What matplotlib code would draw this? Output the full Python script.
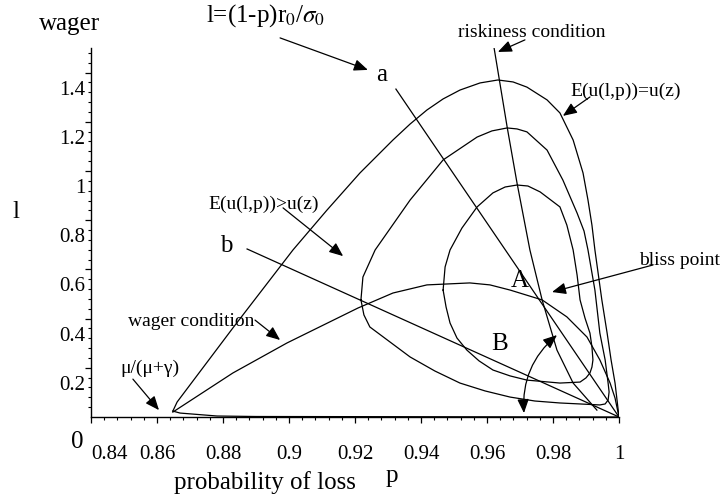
import matplotlib
matplotlib.use("Agg")
import matplotlib.pyplot as plt
import matplotlib.transforms as mtransforms
from matplotlib.ticker import FixedLocator

plt.rcParams['font.family'] = ['Liberation Serif', 'DejaVu Serif']
plt.rcParams['mathtext.fontset'] = 'stix'

# outer level curve E(u(l,p))=u(z): upper branch and the branch hugging l=0
c1_p = [0.8648, 0.8661, 0.8830, 0.9012, 0.9115, 0.9215, 0.9315, 0.9367, 0.9418,
        0.9467, 0.9518, 0.9579, 0.9633, 0.9679, 0.9721, 0.9782, 0.9821, 0.9861,
        0.9891, 0.9906, 0.9918, 0.9927, 0.9948, 0.9964, 0.9976, 0.9988, 0.9994, 1.0]
c1_l = [0.024, 0.061, 0.362, 0.679, 0.841, 0.992, 1.126, 1.191, 1.248,
        1.293, 1.329, 1.358, 1.370, 1.362, 1.341, 1.289, 1.236, 1.126,
        0.992, 0.882, 0.780, 0.679, 0.476, 0.341, 0.232, 0.138, 0.069, 0.0]
c1_low_p = [0.8648, 0.8670, 0.8782, 0.8900, 1.0]
c1_low_l = [0.024, 0.016, 0.004, 0.002, 0.0]

# middle closed level curve
c2_p = [0.9218, 0.9224, 0.9261, 0.9367, 0.9467, 0.9570, 0.9615, 0.9661, 0.9691,
        0.9721, 0.9782, 0.9830, 0.9873, 0.9894, 0.9906, 0.9927, 0.9942, 0.9958,
        0.9967, 0.9970, 0.9967, 0.9958, 0.9942, 0.9882, 0.9821, 0.9745, 0.9670,
        0.9594, 0.9518, 0.9442, 0.9367, 0.9245, 0.9227, 0.9218]
c2_l = [0.476, 0.569, 0.679, 0.882, 1.045, 1.138, 1.163, 1.175, 1.171,
        1.159, 1.085, 0.963, 0.829, 0.756, 0.679, 0.516, 0.341, 0.232,
        0.138, 0.102, 0.069, 0.053, 0.049, 0.053, 0.057, 0.065, 0.081,
        0.106, 0.138, 0.187, 0.244, 0.366, 0.415, 0.476]

# inner closed level curve
c3_p = [0.9467, 0.9473, 0.9488, 0.9524, 0.9570, 0.9618, 0.9655, 0.9691, 0.9724,
        0.9761, 0.9821, 0.9842, 0.9861, 0.9873, 0.9882, 0.9897, 0.9912, 0.9918,
        0.9921, 0.9918, 0.9912, 0.9900, 0.9882, 0.9821, 0.9721, 0.9670, 0.9618,
        0.9576, 0.9539, 0.9509, 0.9488, 0.9476, 0.9467]
c3_l = [0.516, 0.610, 0.679, 0.768, 0.854, 0.911, 0.935, 0.943, 0.939,
        0.915, 0.854, 0.780, 0.679, 0.577, 0.476, 0.402, 0.341, 0.285,
        0.232, 0.203, 0.179, 0.159, 0.142, 0.138, 0.150, 0.167, 0.191,
        0.228, 0.272, 0.321, 0.382, 0.447, 0.516]

# wager condition
w_p = [0.8648, 0.8830, 0.8994, 0.9209, 0.9315, 0.9418, 0.9548, 0.9609, 0.9670,
       0.9767, 0.9842, 0.9903, 0.9942, 0.9973, 0.9988, 1.0]
w_l = [0.020, 0.179, 0.301, 0.443, 0.504, 0.537, 0.545, 0.537, 0.516,
       0.476, 0.407, 0.325, 0.232, 0.138, 0.077, 0.0]

# riskiness condition
r_p = [0.9621, 0.9661, 0.9691, 0.9730, 0.9767, 0.9812, 0.9861, 0.9933]
r_l = [1.504, 1.179, 0.951, 0.679, 0.476, 0.272, 0.138, 0.028]

# rays l=(1-p)r0/sigma0
a_p = [0.9324, 1.0]
a_l = [1.333, 0.0]
b_p = [0.8873, 1.0]
b_l = [0.683, 0.0]

x_major = [0.84, 0.86, 0.88, 0.90, 0.92, 0.94, 0.96, 0.98, 1.0]
x_labels = ["0.84", "0.86", "0.88", "0.9", "0.92", "0.94", "0.96", "0.98", "1"]
y_major = [0.2, 0.4, 0.6, 0.8, 1.0, 1.2, 1.4]
y_labels = ["0.2", "0.4", "0.6", "0.8", "1", "1.2", "1.4"]

fig = plt.figure(figsize=(7.21, 5.0), dpi=100)
ax = fig.add_axes([91 / 721, 83 / 500, 528 / 721, 369 / 500])
kw = dict(color="black", lw=0.9, solid_joinstyle="round")
ax.plot(c1_p, c1_l, **kw)
ax.plot(c1_low_p, c1_low_l, **kw)
ax.plot(c2_p, c2_l, **kw)
ax.plot(c3_p, c3_l, **kw)
ax.plot(w_p, w_l, **kw)
ax.plot(r_p, r_l, **kw)
ax.plot(a_p, a_l, **kw)
ax.plot(b_p, b_l, **kw)

ax.set_xlim(0.84, 1.0)
ax.set_ylim(0, 1.5)
for s in ["top", "right"]:
    ax.spines[s].set_visible(False)
for s in ["left", "bottom"]:
    ax.spines[s].set_linewidth(1.0)

ax.set_xticks(x_major)
ax.set_xticklabels(x_labels)
ax.xaxis.set_minor_locator(FixedLocator([0.84 + 0.004 * i for i in range(41)]))
ax.set_yticks(y_major)
ax.set_yticklabels(y_labels)
ax.yaxis.set_minor_locator(FixedLocator([0.04 * i for i in range(1, 38)]))
ax.tick_params(which="major", direction="out", length=4, width=0.9, labelsize=15)
ax.tick_params(which="minor", direction="out", length=2.5, width=0.8)
ax.tick_params(axis="x", which="major", pad=16)
ax.tick_params(axis="y", which="major", pad=0)

off = mtransforms.ScaledTranslation(0, -0.15, fig.dpi_scale_trans)
for lab in ax.get_yticklabels():
    lab.set_transform(lab.get_transform() + off)
first = ax.get_xticklabels()[0]
first.set_transform(first.get_transform() + mtransforms.ScaledTranslation(0.19, 0, fig.dpi_scale_trans))

big = 18
small = 14
tk = dict(ha="center", va="center", clip_on=False)
ax.text(0.8930, 1.630, r"l=(1-p)r$_0$/$\sigma_0$", fontsize=big, **tk)
ax.text(0.8336, 1.598, "wager", fontsize=big, **tk)
ax.text(0.8173, 0.833, "l", fontsize=big, **tk)
ax.text(0.8358, -0.102, "0", fontsize=big, **tk)
ax.text(0.8927, -0.268, "probability of loss", fontsize=big, **tk)
ax.text(0.9312, -0.240, "p", fontsize=big, **tk)
ax.text(0.9282, 1.390, "a", fontsize=big, **tk)
ax.text(0.8809, 0.695, "b", fontsize=big, **tk)
ax.text(0.9700, 0.553, "A", fontsize=big, **tk)
ax.text(0.9639, 0.297, "B", fontsize=big, **tk)
ax.text(0.9736, 1.565, "riskiness condition", fontsize=small, **tk)
ax.text(1.0021, 1.325, "E(u(l,p))=u(z)", fontsize=small, **tk)
ax.text(0.8924, 0.866, "E(u(l,p))>u(z)", fontsize=small, **tk)
ax.text(1.0185, 0.638, "bliss point", fontsize=small, **tk)
ax.text(0.8703, 0.390, "wager condition", fontsize=small, **tk)
ax.text(0.8579, 0.199, "μ/(μ+γ)", fontsize=small, **tk)

arrows = [
    ((0.8973, 1.541), (0.9239, 1.411)),
    ((0.8982, 0.850), (0.9164, 0.654)),
    ((0.9715, 1.533), (0.9633, 1.484)),
    ((0.9912, 1.301), (0.9830, 1.224)),
    ((1.0103, 0.618), (0.9797, 0.508)),
    ((0.8897, 0.394), (0.8973, 0.313)),
    ((0.8527, 0.154), (0.8606, 0.028)),
]
for start, tip in arrows:
    ax.annotate("", xy=tip, xytext=start, annotation_clip=False,
                arrowprops=dict(arrowstyle="-|>,head_length=0.6,head_width=0.25",
                                color="black", lw=0.9, shrinkA=0, shrinkB=0,
                                mutation_scale=14))
ax.annotate("", xy=(0.9812, 0.333), xytext=(0.9712, 0.016), annotation_clip=False,
            arrowprops=dict(arrowstyle="<|-|>,head_length=0.6,head_width=0.25",
                            color="black", lw=0.9, shrinkA=0, shrinkB=0,
                            mutation_scale=14, connectionstyle="arc3,rad=-0.25"))

fig.savefig("out.png", dpi=100)
